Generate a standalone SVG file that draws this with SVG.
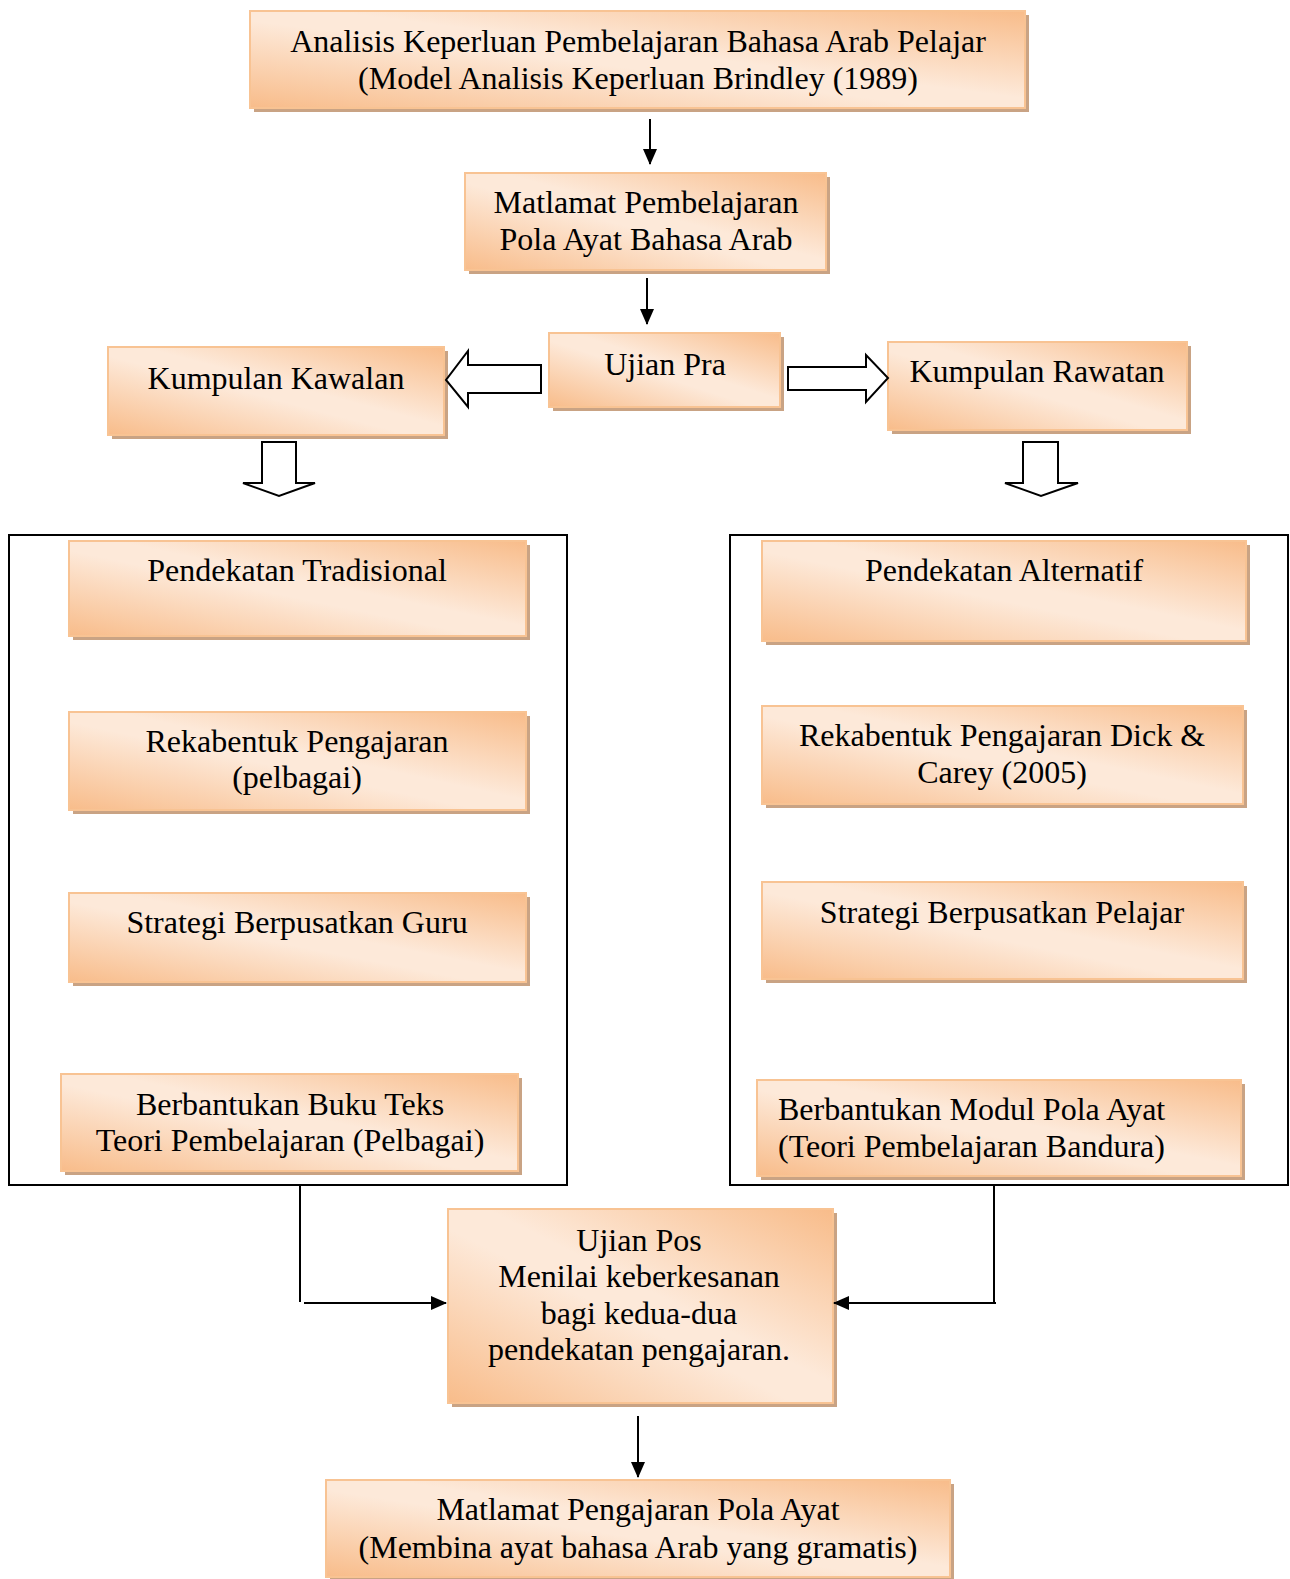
<svg xmlns="http://www.w3.org/2000/svg" width="1290" height="1579" viewBox="0 0 1290 1579">
<style>
.box{fill:url(#g);stroke:#F8C393;stroke-width:2}
.sh{fill:#C9A384}
.t{font-family:"Liberation Serif","Times New Roman",serif;font-size:32px;fill:#000;text-anchor:middle}
.tl{font-family:"Liberation Serif","Times New Roman",serif;font-size:32px;fill:#000;text-anchor:start}
.ln{fill:none;stroke:#000;stroke-width:2}
.blk{fill:#fff;stroke:#000;stroke-width:2;stroke-linejoin:miter}
.frame{fill:none;stroke:#000;stroke-width:2}
</style>
<defs>
<linearGradient id="g" x1="1" y1="0" x2="0" y2="1">
<stop offset="0" stop-color="#F8BC8A"/>
<stop offset="0.45" stop-color="#FDE9D9"/>
<stop offset="0.55" stop-color="#FDE9D9"/>
<stop offset="1" stop-color="#F8BC8A"/>
</linearGradient>
<marker id="ah" markerWidth="10" markerHeight="10" refX="9" refY="5" orient="auto" markerUnits="userSpaceOnUse" viewBox="0 0 10 10">
<path d="M0,0 L10,5 L0,10 z" fill="#000"/>
</marker>
<marker id="ah2" markerWidth="16" markerHeight="14" refX="15" refY="7" orient="auto" markerUnits="userSpaceOnUse" viewBox="0 0 16 14">
<path d="M0,0 L16,7 L0,14 z" fill="#000"/>
</marker>
</defs>

<g id="frames">
<rect class="frame" x="9" y="535" width="558" height="650"/>
<rect class="frame" x="730" y="535" width="558" height="650"/>
</g>

<g id="n1">
<rect class="sh" x="254" y="15" width="775" height="97"/>
<rect class="box" x="250" y="11" width="775" height="97"/>
<text class="t" x="638" y="52">Analisis Keperluan Pembelajaran Bahasa Arab Pelajar</text>
<text class="t" x="638" y="89">(Model Analisis Keperluan Brindley (1989)</text>
</g>

<g id="n2">
<rect class="sh" x="469" y="177" width="361" height="97"/>
<rect class="box" x="465" y="173" width="361" height="97"/>
<text class="t" x="646" y="213">Matlamat Pembelajaran</text>
<text class="t" x="646" y="250">Pola Ayat Bahasa Arab</text>
</g>

<g id="n3">
<rect class="sh" x="553" y="337" width="231" height="74"/>
<rect class="box" x="549" y="333" width="231" height="74"/>
<text class="t" x="665" y="375">Ujian Pra</text>
</g>

<g id="n4">
<rect class="sh" x="112" y="351" width="336" height="88"/>
<rect class="box" x="108" y="347" width="336" height="88"/>
<text class="t" x="276" y="389">Kumpulan Kawalan</text>
</g>

<g id="n5">
<rect class="sh" x="892" y="346" width="299" height="88"/>
<rect class="box" x="888" y="342" width="299" height="88"/>
<text class="t" x="1037" y="382">Kumpulan Rawatan</text>
</g>

<g id="n6">
<rect class="sh" x="73" y="545" width="457" height="95"/>
<rect class="box" x="69" y="541" width="457" height="95"/>
<text class="t" x="297" y="581">Pendekatan Tradisional</text>
</g>

<g id="n7">
<rect class="sh" x="73" y="716" width="457" height="98"/>
<rect class="box" x="69" y="712" width="457" height="98"/>
<text class="t" x="297" y="752">Rekabentuk Pengajaran</text>
<text class="t" x="297" y="788">(pelbagai)</text>
</g>

<g id="n8">
<rect class="sh" x="73" y="897" width="457" height="89"/>
<rect class="box" x="69" y="893" width="457" height="89"/>
<text class="t" x="297" y="933">Strategi Berpusatkan Guru</text>
</g>

<g id="n9">
<rect class="sh" x="65" y="1078" width="457" height="97"/>
<rect class="box" x="61" y="1074" width="457" height="97"/>
<text class="t" x="290" y="1115">Berbantukan Buku Teks</text>
<text class="t" x="290" y="1151">Teori Pembelajaran (Pelbagai)</text>
</g>

<g id="n10">
<rect class="sh" x="766" y="545" width="484" height="100"/>
<rect class="box" x="762" y="541" width="484" height="100"/>
<text class="t" x="1004" y="581">Pendekatan Alternatif</text>
</g>

<g id="n11">
<rect class="sh" x="766" y="710" width="481" height="98"/>
<rect class="box" x="762" y="706" width="481" height="98"/>
<text class="t" x="1002" y="746">Rekabentuk Pengajaran Dick &amp;</text>
<text class="t" x="1002" y="783">Carey (2005)</text>
</g>

<g id="n12">
<rect class="sh" x="766" y="886" width="481" height="97"/>
<rect class="box" x="762" y="882" width="481" height="97"/>
<text class="t" x="1002" y="923">Strategi Berpusatkan Pelajar</text>
</g>

<g id="n13">
<rect class="sh" x="761" y="1084" width="484" height="96"/>
<rect class="box" x="757" y="1080" width="484" height="96"/>
<text class="tl" x="778" y="1120">Berbantukan Modul Pola Ayat</text>
<text class="tl" x="778" y="1157">(Teori Pembelajaran Bandura)</text>
</g>

<g id="n14">
<rect class="sh" x="452" y="1213" width="385" height="194"/>
<rect class="box" x="448" y="1209" width="385" height="194"/>
<text class="t" x="639" y="1251">Ujian Pos</text>
<text class="t" x="639" y="1287">Menilai keberkesanan</text>
<text class="t" x="639" y="1324">bagi kedua-dua</text>
<text class="t" x="639" y="1360">pendekatan pengajaran.</text>
</g>

<g id="n15">
<rect class="sh" x="330" y="1484" width="624" height="97"/>
<rect class="box" x="326" y="1480" width="624" height="97"/>
<text class="t" x="638" y="1520">Matlamat Pengajaran Pola Ayat</text>
<text class="t" x="638" y="1558">(Membina ayat bahasa Arab yang gramatis)</text>
</g>

<g id="connectors">
<line class="ln" x1="650" y1="119" x2="650" y2="164" marker-end="url(#ah2)"/>
<line class="ln" x1="647" y1="278" x2="647" y2="324" marker-end="url(#ah2)"/>
<polygon class="blk" points="541,365 541,393 468,393 468,407 446,380 468,351 468,365"/>
<polygon class="blk" points="788,367 788,390 866,390 866,402 888,378 866,355 866,367"/>
<polygon class="blk" points="262,442 296,442 296,483 315,483 279,496 243,483 262,483"/>
<polygon class="blk" points="1023,442 1058,442 1058,483 1078,483 1041,496 1005,483 1023,483"/>
<line class="ln" x1="300" y1="1185" x2="300" y2="1302"/>
<line class="ln" x1="304" y1="1303" x2="446" y2="1303" marker-end="url(#ah2)"/>
<line class="ln" x1="994" y1="1185" x2="994" y2="1302"/>
<line class="ln" x1="996" y1="1303" x2="834" y2="1303" marker-end="url(#ah2)"/>
<line class="ln" x1="638" y1="1416" x2="638" y2="1477" marker-end="url(#ah2)"/>
</g>
</svg>
